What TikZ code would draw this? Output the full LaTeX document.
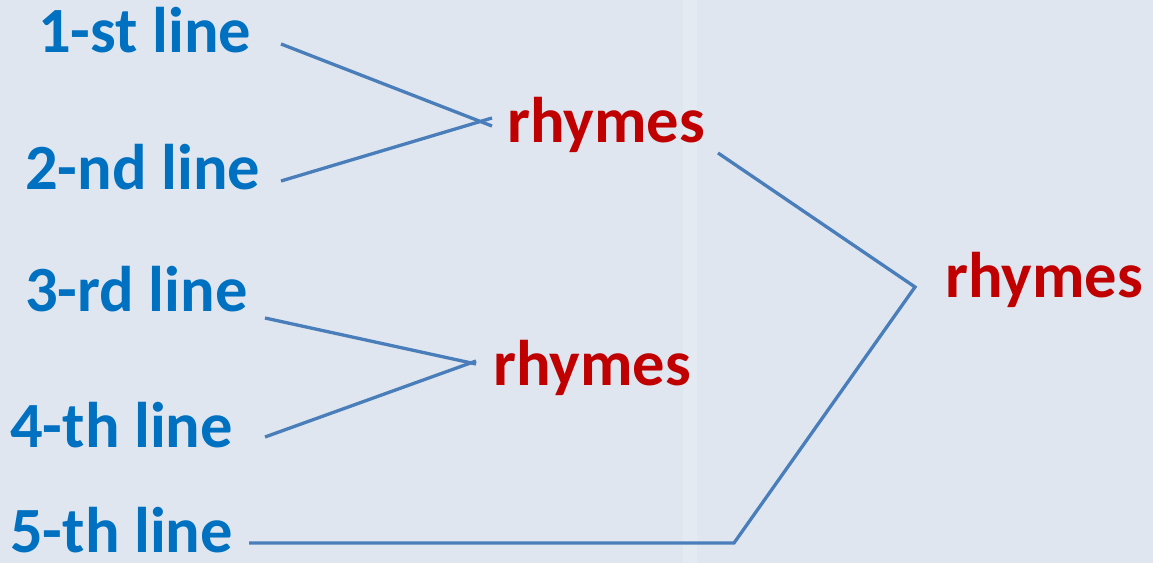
\documentclass[tikz,border=0pt]{standalone}
\usepackage{fontspec}
\setmainfont{Carlito}
\definecolor{bgc}{RGB}{223,230,239}
\definecolor{bluetxt}{RGB}{0,112,192}
\definecolor{redtxt}{RGB}{192,0,0}
\definecolor{linec}{RGB}{74,126,187}
\begin{document}
\begin{tikzpicture}[x=1pt,y=1pt,
  lbl/.style={anchor=base west,inner sep=0pt,font=\fontsize{64.5}{72}\selectfont\bfseries,text=bluetxt},
  rlbl/.style={lbl,text=redtxt},
  conn/.style={draw=linec,line width=3.3pt}]
\useasboundingbox (0,0) rectangle (1153,563);
\fill[bgc] (0,0) rectangle (1153,563);
\fill[white,opacity=0.18] (683,0) rectangle (697,563);
\node[lbl] (l1) at (38,510) {1-st line};
\node[lbl] (l2) at (25,373) {2-nd line};
\node[lbl] (l3) at (25,252) {3-rd line};
\node[lbl] (l4) at (10,116) {4-th line};
\node[lbl] (l5) at (10,11) {5-th line};
\node[rlbl] (r1) at (507,420) {rhymes};
\node[rlbl] (r2) at (493,178) {rhymes};
\node[rlbl] (r3) at (945,266) {rhymes};
\coordinate (a1) at (281,519);
\coordinate (a2) at (281,382);
\coordinate (j1a) at (492,437);
\coordinate (j1b) at (492,445);
\coordinate (b1) at (265,245);
\coordinate (b2) at (265,126);
\coordinate (j2a) at (476,199);
\coordinate (j2b) at (476,202);
\coordinate (c1) at (718,410);
\coordinate (j3) at (915,276);
\coordinate (c2) at (734,20);
\coordinate (c3) at (249,20);
\draw[conn] (a1) -- (j1a);
\draw[conn] (a2) -- (j1b);
\draw[conn] (b1) -- (j2a);
\draw[conn] (b2) -- (j2b);
\draw[conn] (c1) -- (j3) -- (c2) -- (c3);
\end{tikzpicture}
\end{document}
